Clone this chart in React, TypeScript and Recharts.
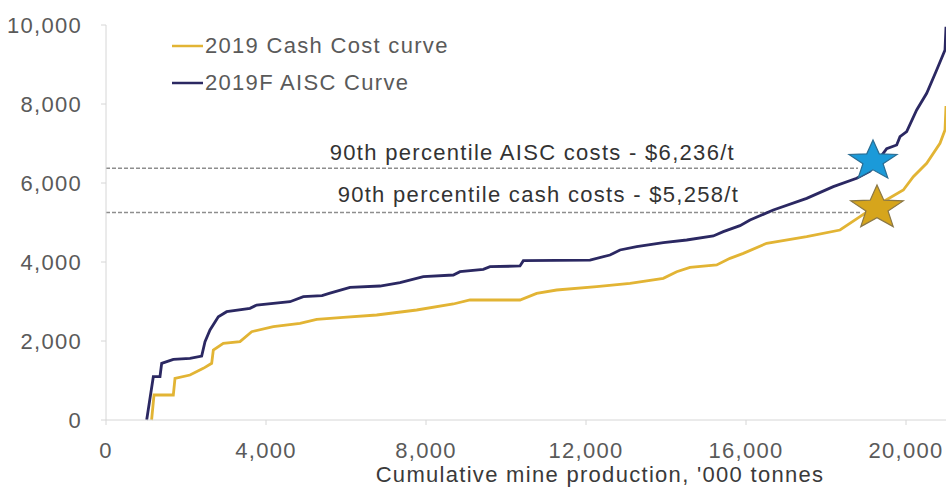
import React from 'react';
import {
  ComposedChart,
  Line,
  Scatter,
  XAxis,
  YAxis,
  Legend,
  ReferenceLine,
  ReferenceDot,
} from 'recharts';

// cumulative production ('000 t) vs cost ($/t)
const cashCurve = [
  { x: 1140, y: 0 }, { x: 1200, y: 633 }, { x: 1683, y: 633 }, { x: 1725, y: 1055 },
  { x: 2100, y: 1139 }, { x: 2433, y: 1308 }, { x: 2642, y: 1435 }, { x: 2683, y: 1772 },
  { x: 2933, y: 1941 }, { x: 3350, y: 1983 }, { x: 3642, y: 2236 }, { x: 4183, y: 2363 },
  { x: 4850, y: 2447 }, { x: 5267, y: 2549 }, { x: 5600, y: 2574 }, { x: 5933, y: 2600 },
  { x: 6767, y: 2658 }, { x: 7767, y: 2785 }, { x: 8683, y: 2937 }, { x: 9100, y: 3038 },
  { x: 10350, y: 3038 }, { x: 10767, y: 3206 }, { x: 11267, y: 3291 }, { x: 12267, y: 3376 },
  { x: 13100, y: 3460 }, { x: 13933, y: 3587 }, { x: 14267, y: 3755 }, { x: 14600, y: 3865 },
  { x: 15267, y: 3924 }, { x: 15600, y: 4093 }, { x: 15933, y: 4219 }, { x: 16517, y: 4473 },
  { x: 17517, y: 4641 }, { x: 18350, y: 4810 }, { x: 18850, y: 5147 }, { x: 19300, y: 5450 },
  { x: 19933, y: 5823 }, { x: 20183, y: 6160 }, { x: 20517, y: 6498 }, { x: 20850, y: 7004 },
  { x: 20975, y: 7342 }, { x: 21000, y: 7950 },
];

const aiscCurve = [
  { x: 1017, y: 0 }, { x: 1183, y: 1096 }, { x: 1350, y: 1100 }, { x: 1392, y: 1435 },
  { x: 1683, y: 1536 }, { x: 2100, y: 1562 }, { x: 2392, y: 1620 }, { x: 2475, y: 1982 },
  { x: 2600, y: 2278 }, { x: 2808, y: 2615 }, { x: 3017, y: 2742 }, { x: 3600, y: 2827 },
  { x: 3767, y: 2911 }, { x: 4600, y: 2995 }, { x: 4933, y: 3122 }, { x: 5400, y: 3150 },
  { x: 5600, y: 3210 }, { x: 6100, y: 3359 }, { x: 6850, y: 3392 }, { x: 7350, y: 3476 },
  { x: 7933, y: 3628 }, { x: 8683, y: 3671 }, { x: 8850, y: 3755 }, { x: 9433, y: 3814 },
  { x: 9600, y: 3881 }, { x: 10350, y: 3899 }, { x: 10433, y: 4033 }, { x: 12100, y: 4050 },
  { x: 12600, y: 4177 }, { x: 12850, y: 4304 }, { x: 13267, y: 4388 }, { x: 13933, y: 4489 },
  { x: 14517, y: 4557 }, { x: 15183, y: 4658 }, { x: 15433, y: 4768 }, { x: 15850, y: 4920 },
  { x: 16100, y: 5063 }, { x: 16683, y: 5316 }, { x: 17517, y: 5612 }, { x: 18183, y: 5907 },
  { x: 18767, y: 6118 }, { x: 19100, y: 6300 }, { x: 19517, y: 6870 }, { x: 19767, y: 6962 },
  { x: 19850, y: 7173 }, { x: 20017, y: 7300 }, { x: 20267, y: 7848 }, { x: 20517, y: 8270 },
  { x: 20767, y: 8861 }, { x: 20975, y: 9367 }, { x: 21000, y: 9957 },
];

const aiscStar = [{ x: 19175, y: 6557 }];
const cashStar = [{ x: 19275, y: 5367 }];

const xTicks = [0, 4000, 8000, 12000, 16000, 20000];
const yTicks = [0, 2000, 4000, 6000, 8000, 10000];

const aiscLevel = 6372;
const cashLevel = 5255;
const aiscNote = '90th percentile AISC costs - $6,236/t';
const cashNote = '90th percentile cash costs - $5,258/t';

const NAVY = '#2b2862';
const GOLD = '#e2b434';
const FONT = '"Liberation Sans", Arial, sans-serif';

const fmt = (v: number) => v.toLocaleString('en-US');

const starShape = (fill: string, stroke: string, r: number) => (props: any) => {
  const { cx, cy } = props;
  const pts: string[] = [];
  for (let i = 0; i < 10; i++) {
    const rad = i % 2 === 0 ? r : r * 0.42;
    const a = -Math.PI / 2 + (i * Math.PI) / 5;
    pts.push(`${cx + rad * Math.cos(a) * 1.2},${cy + rad * Math.sin(a)}`);
  }
  return <polygon points={pts.join(' ')} fill={fill} stroke={stroke} strokeWidth={1.2} />;
};

const renderLegend = (props: any) => (
  <div style={{ fontFamily: FONT, fontSize: 22, letterSpacing: 1.3, color: '#5a5a5a' }}>
    {(props.payload || [])
      .filter((p: any) => p.type !== 'none')
      .map((p: any) => (
        <div key={p.value} style={{ display: 'flex', alignItems: 'center', height: 36.6 }}>
          <svg width={33} height={4}>
            <line x1={0} y1={2} x2={31} y2={2} stroke={p.color} strokeWidth={2.5} />
          </svg>
          <span>{p.value}</span>
        </div>
      ))}
  </div>
);

export default function App() {
  return (
    <div style={{ position: 'absolute', left: 0, top: 0, fontFamily: FONT, letterSpacing: 1.3 }}>
      <ComposedChart width={949} height={488} margin={{ top: 25, right: 3, bottom: 0, left: 0 }}>
        <XAxis
          dataKey="x"
          type="number"
          domain={[0, 21000]}
          ticks={xTicks}
          tickFormatter={fmt}
          allowDataOverflow
          height={68}
          stroke="#d6d6d6"
          tickSize={5}
          tickMargin={17}
          tick={{ fill: '#5a5a5a', fontSize: 22 }}
          label={{
            value: "Cumulative mine production, '000 tonnes",
            position: 'insideBottom',
            offset: 6,
            dx: 74,
            fill: '#3a3a3a',
            fontSize: 22,
          }}
        />
        <YAxis
          dataKey="y"
          type="number"
          domain={[0, 10000]}
          ticks={yTicks}
          tickFormatter={fmt}
          width={106}
          stroke="#d6d6d6"
          tickSize={5}
          tickMargin={19}
          tick={{ fill: '#5a5a5a', fontSize: 22 }}
        />
        <Legend
          layout="vertical"
          align="center"
          verticalAlign="middle"
          wrapperStyle={{ top: 28, left: 172, width: 'auto' }}
          content={renderLegend}
        />
        <ReferenceLine
          segment={[{ x: 0, y: aiscLevel }, { x: 18800, y: aiscLevel }]}
          stroke="#8e8e8e"
          strokeWidth={1.5}
          strokeDasharray="4 2"
        />
        <ReferenceLine
          segment={[{ x: 0, y: cashLevel }, { x: 18850, y: cashLevel }]}
          stroke="#8e8e8e"
          strokeWidth={1.5}
          strokeDasharray="4 2"
        />
        <ReferenceDot
          x={10660}
          y={aiscLevel}
          r={0}
          fill="none"
          stroke="none"
          label={{ value: aiscNote, position: 'top', offset: 8, fill: '#333333', fontSize: 22 }}
        />
        <ReferenceDot
          x={10810}
          y={cashLevel}
          r={0}
          fill="none"
          stroke="none"
          label={{ value: cashNote, position: 'top', offset: 10, fill: '#333333', fontSize: 22 }}
        />
        <Line
          data={cashCurve}
          dataKey="y"
          name="2019 Cash Cost curve"
          type="linear"
          stroke={GOLD}
          strokeWidth={2.8}
          dot={false}
          activeDot={false}
          isAnimationActive={false}
        />
        <Line
          data={aiscCurve}
          dataKey="y"
          name="2019F AISC Curve"
          type="linear"
          stroke={NAVY}
          strokeWidth={2.8}
          dot={false}
          activeDot={false}
          isAnimationActive={false}
        />
        <Scatter
          data={aiscStar}
          dataKey="y"
          legendType="none"
          shape={starShape('#1b9ad9', '#2a6d93', 21)}
          isAnimationActive={false}
        />
        <Scatter
          data={cashStar}
          dataKey="y"
          legendType="none"
          shape={starShape('#d6a51c', '#8a7746', 23)}
          isAnimationActive={false}
        />
      </ComposedChart>
    </div>
  );
}
